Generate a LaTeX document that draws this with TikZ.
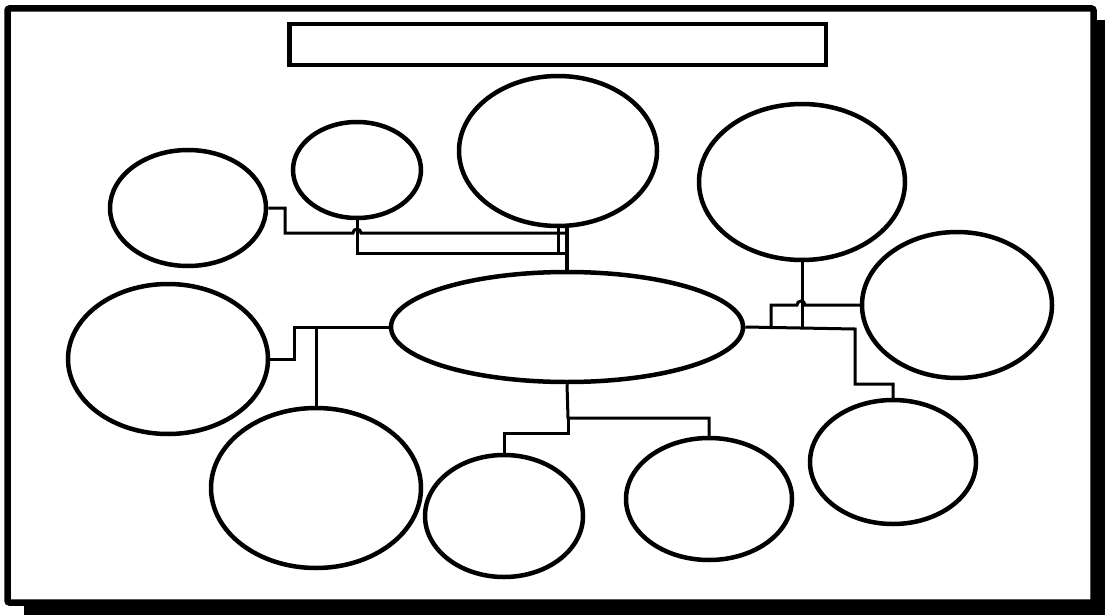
\documentclass[tikz,border=0pt]{standalone}
\usepackage{tikz}
\usetikzlibrary{shapes.geometric}
\tikzset{
  bubble/.style={ellipse,draw,line width=4.5pt,inner sep=0pt,fill=white},
  link/.style={line width=3pt},
}
\begin{document}
\begin{tikzpicture}[x=1pt,y=-1pt]
        \useasboundingbox (0,0) rectangle (1105,615);
        \fill (24,20) rectangle (1105,615);
        \draw[line width=6.5pt,fill=white,rounded corners=2pt] (7.5,8.5) rectangle (1093.5,602.5);
        \draw[line width=4.5pt] (289.5,24) rectangle (826,65);
        \foreach \name/\x/\y/\w/\h in {left1/188/208/156/116, top2/357/170/128/96, top3/558/151/198/150,
            topright/802/182/206/156, right1/957/305/190/146, centre/567/327/352/110,
            left2/168/359/200/150, bottom1/316/488/210/160, bottom2/504/516/158/122,
            bottom3/709/499/166/122, lowright/893/462/166/124} {
          \node[bubble,minimum width=\w pt,minimum height=\h pt] (\name) at (\x,\y) {};
        }
        % upper left
        \draw[link] (left1.east) -| (285,233) -- (353,233) arc (180:360:4) -- (567,233);
        \draw[link] (top2.south) |- (567,253);
        \draw[link] (top3.south) -- ++(0,25);
        \draw[line width=4pt] (centre.north) -- (centre.north |- top3.south);
        % right
        \draw[link] (topright.south) -- (802,329);
        \draw[link] (centre.east) -- (855,329) |- (893,384) -- (lowright.north);
        \draw[link] (right1.west) -- (805,305) arc (0:-180:4) -- (771,305) -- (771,329);
        % left
        \draw[link] (left2.east) -- (294,359) |- (centre.west);
        \draw[link] (316,327) -- (bottom1.north);
        % bottom
        \draw[link] (centre.south) -- (568,418) -| (bottom3.north);
        \draw[link] (568,418) |- (504,433) -- (bottom2.north);
      \end{tikzpicture}
\end{document}
